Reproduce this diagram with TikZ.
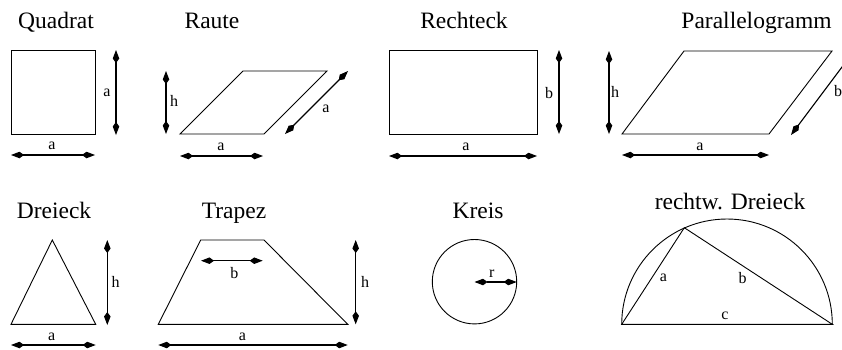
\documentclass[tikz,border=0pt]{standalone}
\usepackage{fontspec}
\setmainfont{Liberation Serif}
\usetikzlibrary{arrows.meta}
\begin{document}
\begin{tikzpicture}[x=1pt,y=-1pt,
  shp/.style={line width=0.9pt, line join=miter},
  dim/.style={line width=1.1pt, {Kite[length=13pt,width=6.5pt,inset=4.5pt]}-{Kite[length=13pt,width=6.5pt,inset=4.5pt]}},
  ttl/.style={font=\fontsize{23.5}{26}\selectfont, anchor=base, inner sep=0},
  lbl/.style={font=\fontsize{16}{18}\selectfont, inner sep=0}]
\useasboundingbox (0,0) rectangle (842,349);

% ---------- Quadrat
\node[ttl] (tq) at (56,28.5) {Quadrat};
\draw[shp] (11,50) rectangle (95,134);
\coordinate (qv1) at (116,50); \coordinate (qv2) at (116,135);
\coordinate (qh1) at (11,155); \coordinate (qh2) at (95,155);
\draw[dim] (qv1) -- (qv2);
\draw[dim] (qh1) -- (qh2);
\node[lbl] (qa1) at (107,93) {a};
\node[lbl] (qa2) at (52,146) {a};

% ---------- Raute
\node[ttl] (tr) at (212,28.5) {Raute};
\draw[shp] (180,134) -- (264,134) -- (327,71) -- (243,71) -- cycle;
\coordinate (rv1) at (166,71); \coordinate (rv2) at (166,134);
\coordinate (rh1) at (180,156); \coordinate (rh2) at (263,156);
\coordinate (rd1) at (285,134); \coordinate (rd2) at (348,71);
\draw[dim] (rv1) -- (rv2);
\draw[dim] (rh1) -- (rh2);
\draw[dim] (rd1) -- (rd2);
\node[lbl] (rh) at (174,101) {h};
\node[lbl] (ra1) at (221,147) {a};
\node[lbl] (ra2) at (326,109) {a};

% ---------- Rechteck
\node[ttl] (tre) at (464,28.5) {Rechteck};
\draw[shp] (389,50) rectangle (537,134);
\coordinate (ev1) at (559,50); \coordinate (ev2) at (559,134);
\coordinate (eh1) at (389,156); \coordinate (eh2) at (537,156);
\draw[dim] (ev1) -- (ev2);
\draw[dim] (eh1) -- (eh2);
\node[lbl] (eb) at (549,93) {b};
\node[lbl] (ea) at (466,147) {a};

% ---------- Parallelogramm
\node[ttl] (tp) at (756.5,28.5) {Parallelogramm};
\draw[shp] (622,134) -- (769,134) -- (832,51) -- (684,51) -- cycle;
\coordinate (pv1) at (609,51); \coordinate (pv2) at (609,134);
\coordinate (ph1) at (622,155); \coordinate (ph2) at (769,155);
\coordinate (pd1) at (791,135); \coordinate (pd2) at (854,51);
\draw[dim] (pv1) -- (pv2);
\draw[dim] (ph1) -- (ph2);
\draw[dim] (pd1) -- (pd2);
\node[lbl] (ph) at (615,92) {h};
\node[lbl] (pa) at (700,147) {a};
\node[lbl] (pb) at (838,91) {b};

% ---------- Dreieck
\node[ttl] (td) at (54,218.3) {Dreieck};
\draw[shp] (11,324.3) -- (95.7,324.3) -- (52.3,240) -- cycle;
\coordinate (dv1) at (107.3,240); \coordinate (dv2) at (107.3,325);
\coordinate (dh1) at (11,345); \coordinate (dh2) at (95.7,345);
\draw[dim] (dv1) -- (dv2);
\draw[dim] (dh1) -- (dh2);
\node[lbl] (dh) at (115.7,282) {h};
\node[lbl] (da) at (51.7,337) {a};

% ---------- Trapez
\node[ttl] (tt) at (234,218.3) {Trapez};
\draw[shp] (158.3,324.3) -- (347.7,324.3) -- (264,240) -- (200.7,240) -- cycle;
\coordinate (tv1) at (355.7,240); \coordinate (tv2) at (355.7,324.3);
\coordinate (tb1) at (201,260.7); \coordinate (tb2) at (262.7,260.7);
\coordinate (th1) at (158.3,345); \coordinate (th2) at (347.7,345);
\draw[dim] (tv1) -- (tv2);
\draw[dim] (tb1) -- (tb2);
\draw[dim] (th1) -- (th2);
\node[lbl] (th) at (365,282) {h};
\node[lbl] (tbl) at (234.3,273.3) {b};
\node[lbl] (ta) at (242.3,337) {a};

% ---------- Kreis
\node[ttl] (tk) at (478,218.3) {Kreis};
\coordinate (kc) at (474.5,281.7);
\draw[shp] (kc) circle[radius=42.2];
\coordinate (kr1) at (474.5,282); \coordinate (kr2) at (516.7,282);
\draw[dim] (kr1) -- (kr2);
\node[lbl] (kr) at (491.7,274) {r};

% ---------- rechtw. Dreieck
\node[ttl] (tw) at (730,209) {rechtw. Dreieck};
\coordinate (wl) at (621.7,324.3);
\coordinate (wr) at (832.3,324.3);
\coordinate (wt) at (684.3,227.7);
\draw[shp] (wl) arc[start angle=180, end angle=360, radius=105.3];
\draw[shp] (wl) -- (wr) -- (wt) -- cycle;
\node[lbl] (wa) at (663.3,278.3) {a};
\node[lbl] (wb) at (742.7,278.3) {b};
\node[lbl] (wc) at (725,316) {c};
\end{tikzpicture}
\end{document}
